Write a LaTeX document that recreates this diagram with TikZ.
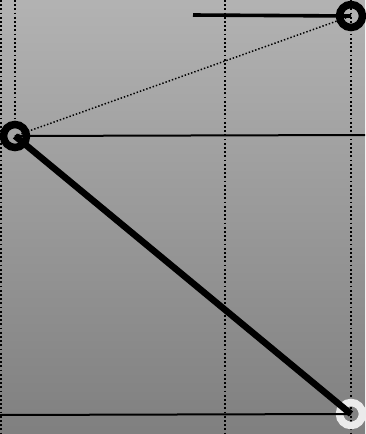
\documentclass[tikz,border=0pt]{standalone}
\begin{document}
\begin{tikzpicture}[
            x=1pt, y=-1pt,
            ring/.style={circle, draw=black, line width=7.5pt, minimum size=23pt, inner sep=0pt},
            lightring/.style={ring, draw=black!8},
            guide/.style={line width=1.4pt, dash pattern=on 1.8pt off 2.4pt},
            thinrule/.style={line width=2pt},
            thickrule/.style={line width=3.6pt},
            heavy/.style={line width=6.5pt}
        ]
            \shade[top color=black!30, bottom color=black!50] (0,0) rectangle (365,434);
            \useasboundingbox (0,0) rectangle (365,434);

            % vertical guides
            \foreach \x in {1,225,351} {
                \draw[guide] (\x,0) -- (\x,434);
            }

            \node[ring] (top) at (351,16) {};
            \node[ring] (left) at (15,136) {};
            \node[lightring] (bottom) at (351,414) {};

            \coordinate (topstart) at (193,15);
            \coordinate (leftend) at (365,135);
            \coordinate (bottomstart) at (0,415);
            \coordinate (leftguide) at (15,0);

            \draw[guide] (leftguide) -- (left);
            \draw[thickrule] (topstart) -- (top.center);
            \draw[thinrule] (left.center) -- (leftend);
            \draw[thinrule] (bottomstart) -- (bottom.center);
            \draw[line width=1.5pt, dash pattern=on 1.4pt off 2pt] (left.center) -- (top.center);
            \draw[heavy] (left.center) -- (bottom.center);

        \end{tikzpicture}
\end{document}
